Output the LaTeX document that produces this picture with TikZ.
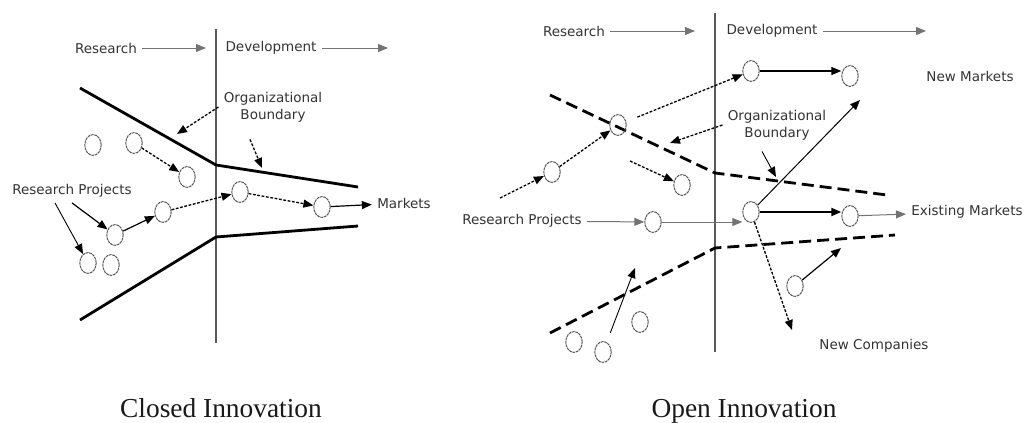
\documentclass[tikz,border=0pt]{standalone}
\usepackage{fontspec}
\setmainfont{Liberation Serif}
\setsansfont{DejaVu Sans}
\usetikzlibrary{arrows.meta}
\usetikzlibrary{shapes.geometric}

\begin{document}
\begin{tikzpicture}[x=0.5pt, y=-0.5pt, >={Triangle[length=5pt, width=4pt]},
    lbl/.style={font=\sffamily\fontsize{6.75}{8.5}\selectfont, text=black!80, inner sep=2.5pt, align=center},
    proj/.style={ellipse, draw=black!65, dash pattern=on 1.4pt off 0.35pt, line width=0.5pt, minimum width=8.2pt, minimum height=10.4pt, inner sep=0pt},
    bound/.style={line width=1.4pt, line join=round},
    dbound/.style={line width=1.4pt, dash pattern=on 6pt off 3pt},
    divide/.style={line width=0.8pt, black!65},
    thinarr/.style={->, black!55, line width=0.5pt},
    solarr/.style={->, line width=0.6pt},
    dotarr/.style={->, dash pattern=on 1.4pt off 0.8pt, line width=0.65pt},
    captext/.style={font=\fontsize{13.7}{16}\selectfont, text=black!90, anchor=base}]
  \useasboundingbox (0,0) rectangle (1025,423);

  % closed innovation
  \node [lbl] (lres) at (106,48) {Research};
  \node [lbl] (ldev) at (271,48) {Development};
  \coordinate (lresend) at (206,48);
  \coordinate (ldevend) at (388,48);
  \draw [thinarr] (lres) -- (lresend);
  \draw [thinarr] (ldev) -- (ldevend);
  \coordinate (ldivtop) at (216,29);
  \coordinate (ldivbot) at (216,343);
  \draw [divide] (ldivtop) -- (ldivbot);
  \draw [bound] (80,88) -- (216,165) -- (358,187);
  \draw [bound] (80,320) -- (216,237) -- (358,226);
  \node [lbl] (lorg) at (273,107) {Organizational\\Boundary};
  \coordinate (lob1) at (177,134);
  \coordinate (lob2) at (262,168);
  \draw [dotarr] (lorg.west) -- (lob1);
  \draw [dotarr] ([xshift=-11.5pt, yshift=-6pt]lorg.south) -- (lob2);
  \node [proj] (la) at (93,145) {};
  \node [proj] (lb) at (134,143) {};
  \node [proj] (lc) at (187,177) {};
  \node [proj] (ld) at (240,192) {};
  \node [proj] (le) at (322,207) {};
  \node [proj] (lf) at (163,212) {};
  \node [proj] (lg) at (115,235) {};
  \node [proj] (lh) at (88,263) {};
  \node [proj] (li) at (111,265) {};
  \node [lbl] (lrp) at (72,191) {Research Projects};
  \node [lbl] (lmk) at (404,203) {Markets};
  \draw [dotarr] (lb) -- (lc);
  \draw [dotarr] (lf) -- (ld);
  \draw [dotarr] (ld) -- (le);
  \draw [solarr] (lg) -- (lf);
  \draw [solarr] (le) -- (lmk);
  \draw [solarr] (lrp.south) -- (lg);
  \draw [solarr, line width=0.45pt] ([xshift=-8.5pt]lrp.south) -- (lh);
  \node [captext] (lcap) at (221,417) {Closed Innovation};

  % open innovation
  \node [lbl] (rres) at (574,31) {Research};
  \node [lbl] (rdev) at (772,31) {Development};
  \coordinate (rresend) at (695,31);
  \coordinate (rdevend) at (926,31);
  \draw [thinarr] (rres) -- (rresend);
  \draw [thinarr] (rdev) -- (rdevend);
  \coordinate (rdivtop) at (715,13);
  \coordinate (rdivbot) at (715,352);
  \draw [divide, line width=0.6pt] (rdivtop) -- (rdivbot);
  \draw [dbound] (550,95) -- (715,173) -- (887,195);
  \draw [dbound] (550,333) -- (715,248) -- (895,235);
  \node [lbl] (rorg) at (777,125) {Organizational\\Boundary};
  \coordinate (rob1) at (670,143);
  \coordinate (rob2) at (776,177);
  \draw [dotarr] (rorg.west) -- (rob1);
  \draw [solarr, line width=0.45pt] ([xshift=-7.5pt, yshift=-3pt]rorg.south) -- (rob2);
  \node [proj] (rp) at (618,125) {};
  \node [proj] (rq) at (552,172) {};
  \node [proj] (rr) at (682,185) {};
  \node [proj] (rs) at (653,222) {};
  \node [proj] (rt) at (751,71) {};
  \node [proj] (ru) at (850,76) {};
  \node [proj] (rv) at (751,212) {};
  \node [proj] (rw) at (850,216) {};
  \node [proj] (rx) at (795,286) {};
  \node [proj] (ry) at (574,342) {};
  \node [proj] (rz) at (603,352) {};
  \node [proj] (raa) at (640,322) {};
  \node [lbl] (rrp) at (522,221) {Research Projects};
  \node [lbl] (rnm) at (970,76) {New Markets};
  \node [lbl] (rem) at (967,212) {Existing Markets};
  \node [lbl] (rnc) at (874,346) {New Companies};
  \coordinate (rpup) at (500,198);
  \coordinate (rrin) at (630,161);
  \coordinate (rvnm) at (860,100);
  \coordinate (rvnc) at (792,330);
  \coordinate (rxb) at (841,248);
  \coordinate (rzb) at (635,268);
  \draw [dotarr] (rpup) -- (rq);
  \draw [dotarr] (rq) -- (rp);
  \draw [dotarr, shorten <=6pt] (rp) -- (rt);
  \draw [dotarr] (rrin) -- (rr);
  \draw [thinarr] (rrp) -- (rs);
  \draw [thinarr] (rs) -- (rs -| rv.west);
  \draw [solarr] (rt) -- (rt -| ru.west);
  \draw [solarr, line width=0.5pt] (rv) -- (rvnm);
  \draw [solarr, line width=0.9pt] (rv) -- (rv -| rw.west);
  \draw [thinarr] (rw) -- (rem);
  \draw [dotarr] (rv) -- (rvnc);
  \draw [solarr] (rx) -- (rxb);
  \draw [solarr, line width=0.45pt, shorten <=5pt] (rz) -- (rzb);
  \node [captext] (rcap) at (744,417) {Open Innovation};
\end{tikzpicture}
\end{document}
